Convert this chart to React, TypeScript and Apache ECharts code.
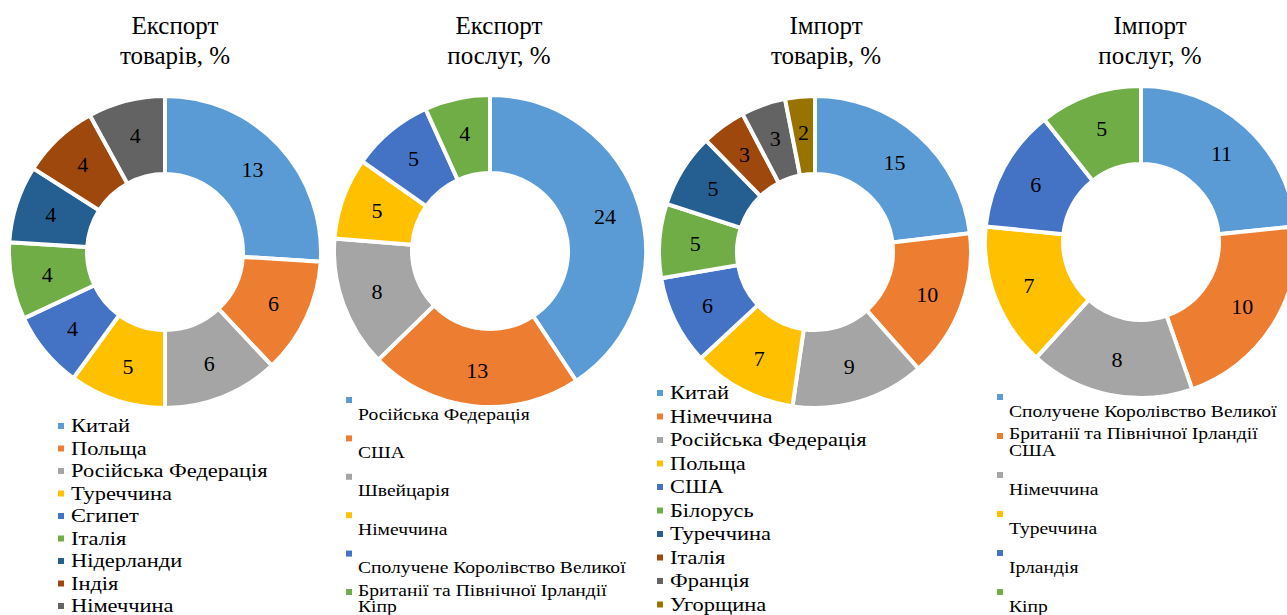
import React, { useEffect, useRef } from "react";
import * as echarts from "echarts";

const FONT = "Liberation Serif";

// Chart 1: Експорт товарів
const exportGoodsNames = ["Китай", "Польща", "Російська Федерація", "Туреччина", "Єгипет", "Італія", "Нідерланди", "Індія", "Німеччина"];
const exportGoodsValues = [13, 6, 6, 5, 4, 4, 4, 4, 4];
// Chart 2: Експорт послуг
const exportServicesNames = ["Російська Федерація", "США", "Швейцарія", "Німеччина", "Сполучене Королівство Великої Британії та Північної Ірландії", "Кіпр"];
const exportServicesValues = [24, 13, 8, 5, 5, 4];
// Chart 3: Імпорт товарів
const importGoodsNames = ["Китай", "Німеччина", "Російська Федерація", "Польща", "США", "Білорусь", "Туреччина", "Італія", "Франція", "Угорщина"];
const importGoodsValues = [15, 10, 9, 7, 6, 5, 5, 3, 3, 2];
// Chart 4: Імпорт послуг
const importServicesNames = ["Сполучене Королівство Великої Британії та Північної Ірландії", "США", "Німеччина", "Туреччина", "Ірландія", "Кіпр"];
const importServicesValues = [11, 10, 8, 7, 6, 5];

const titles = ["Експорт\nтоварів, %", "Експорт\nпослуг, %", "Імпорт\nтоварів, %", "Імпорт\nпослуг, %"];

const palette = ["#5B9BD5", "#ED7D31", "#A5A5A5", "#FFC000", "#4472C4", "#70AD47", "#255E91", "#9E480E", "#636363", "#997300"];

function wrapWords(s: string, maxChars: number) {
  const words = s.split(" ");
  const lines: string[] = [];
  let cur = "";
  words.forEach((w) => {
    const next = cur ? cur + " " + w : w;
    if (next.length > maxChars && cur) {
      lines.push(cur);
      cur = w;
    } else cur = next;
  });
  if (cur) lines.push(cur);
  return lines.join("\n");
}

function pieSeries(names: string[], values: number[], center: number[]) {
  return {
    type: "pie",
    center,
    radius: [78, 156],
    startAngle: 90,
    clockwise: true,
    avoidLabelOverlap: false,
    label: { show: true, position: "inside", formatter: "{c}", fontSize: 22, color: "#000", fontFamily: FONT },
    labelLine: { show: false },
    itemStyle: { borderColor: "#fff", borderWidth: 4 },
    emphasis: { disabled: true },
    data: names.map((n, i) => ({ name: n, value: values[i], itemStyle: { color: palette[i] } })),
  };
}

function plainLegend(names: string[], iconX: number, textX: number, y0: number, step: number) {
  const els: any[] = [];
  names.forEach((n, i) => {
    const y = y0 + i * step;
    els.push({ type: "rect", shape: { x: iconX, y: y - 3, width: 6, height: 6 }, style: { fill: palette[i] } });
    els.push({
      type: "text",
      x: textX,
      y,
      scaleX: 1.15,
      style: { text: n, fontSize: 19.5, fontFamily: FONT, fill: "#000", verticalAlign: "middle", align: "left" },
    });
  });
  return els;
}

function wrappedLegend(names: string[], iconX: number, textX: number, y0: number, step: number) {
  const els: any[] = [];
  names.forEach((n, i) => {
    const y = y0 + i * step;
    els.push({ type: "rect", shape: { x: iconX, y: y - 3, width: 6, height: 6 }, style: { fill: palette[i] } });
    els.push({
      type: "text",
      x: textX,
      y: y + 13.5 - 11.25,
      scaleX: 1.12,
      style: { text: wrapWords(n, 30), fontSize: 17.5, fontFamily: FONT, fill: "#000", lineHeight: 22.5, verticalAlign: "top", align: "left" },
    });
  });
  return els;
}

export default function App() {
  const ref = useRef<HTMLDivElement>(null);
  useEffect(() => {
    if (!ref.current) return;
    const chart = echarts.init(ref.current, null, { renderer: "svg" });
    const titleCenters = [175, 499, 826, 1150];
    chart.setOption({
      animation: false,
      backgroundColor: "#fff",
      title: titles.map((t, i) => ({
        text: t,
        left: titleCenters[i],
        top: 10,
        padding: 0,
        textAlign: "center",
        textStyle: { fontSize: 25, fontWeight: "normal", fontFamily: FONT, color: "#000", lineHeight: 30 },
      })),
      graphic: [
        ...plainLegend(exportGoodsNames, 58, 71, 426, 22.5),
        ...wrappedLegend(exportServicesNames, 346, 358, 400, 38.4),
        ...plainLegend(importGoodsNames, 657, 670, 393, 23.5),
        ...wrappedLegend(importServicesNames, 997, 1009, 397, 39),
      ],
      series: [
        pieSeries(exportGoodsNames, exportGoodsValues, [165, 252]),
        pieSeries(exportServicesNames, exportServicesValues, [490, 251]),
        pieSeries(importGoodsNames, importGoodsValues, [815, 252]),
        pieSeries(importServicesNames, importServicesValues, [1141, 242]),
      ],
    });
    return () => chart.dispose();
  }, []);
  return <div ref={ref} style={{ position: "fixed", left: 0, top: 0, width: 1287, height: 615 }} />;
}
